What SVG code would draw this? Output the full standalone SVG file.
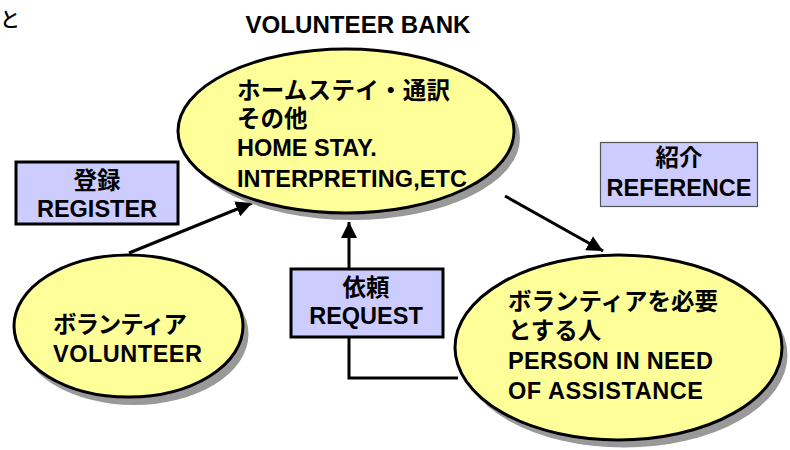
<svg xmlns="http://www.w3.org/2000/svg" width="790" height="450" viewBox="0 0 790 450">
<style>
.t{font-family:"Liberation Sans","Noto Sans CJK JP",Arial,sans-serif;font-weight:bold;font-size:23.5px;fill:#000}
.tc{text-anchor:middle}
.ell{fill:#ffff99;stroke:#000;stroke-width:3}
.sh{fill:#999}
.box{fill:#ccccff;stroke:#000;stroke-width:3}
.box2{fill:#ccccff;stroke:#555;stroke-width:1.2}
.con{fill:none;stroke:#000;stroke-width:3}
</style>
<defs>
<marker id="ah" markerUnits="userSpaceOnUse" markerWidth="18" markerHeight="16" refX="16" refY="8" orient="auto">
<path d="M0,0 L16,8 L0,16 Z" fill="#000"/>
</marker>
</defs>
<rect width="790" height="450" fill="#fff"/>
<text x="0" y="27" style="font-family:'Noto Sans CJK JP',sans-serif;font-size:20px;font-weight:500">と</text>
<text id="title" class="t tc" x="358" y="33" textLength="225" lengthAdjust="spacingAndGlyphs">VOLUNTEER BANK</text>

<g id="connectors">
<line class="con" x1="129" y1="253" x2="252" y2="203" marker-end="url(#ah)"/>
<line class="con" x1="505" y1="196" x2="603" y2="251" marker-end="url(#ah)"/>
<polyline class="con" points="458,378 349,378 349,222" marker-end="url(#ah)"/>
</g>

<g id="bank">
<ellipse class="sh" cx="352" cy="138" rx="168" ry="82"/>
<ellipse class="ell" cx="346" cy="131" rx="168" ry="82"/>
<text class="t" x="237" y="99" textLength="213">ホームステイ・通訳</text>
<text class="t" x="237" y="127">その他</text>
<text class="t" x="237" y="156">HOME STAY.</text>
<text class="t" x="237" y="187" textLength="230">INTERPRETING,ETC</text>
</g>

<g id="volunteer">
<ellipse class="sh" cx="134" cy="334" rx="114.5" ry="71"/>
<ellipse class="ell" cx="128.5" cy="326" rx="114.5" ry="71"/>
<text class="t" x="53" y="333" textLength="134">ボランティア</text>
<text class="t" x="53" y="362" textLength="149">VOLUNTEER</text>
</g>

<g id="person">
<ellipse class="sh" cx="624" cy="355" rx="163.5" ry="92.5"/>
<ellipse class="ell" cx="618.5" cy="347.5" rx="163.5" ry="92.5"/>
<text class="t" x="508" y="310" textLength="210">ボランティアを必要</text>
<text class="t" x="508" y="339">とする人</text>
<text class="t" x="508" y="369" textLength="205">PERSON IN NEED</text>
<text class="t" x="508" y="399" textLength="195">OF ASSISTANCE</text>
</g>

<g id="register">
<rect class="box" x="16" y="162" width="162" height="62"/>
<text class="t tc" x="97" y="189">登録</text>
<text class="t tc" x="97" y="217">REGISTER</text>
</g>

<g id="request">
<rect class="box" x="291" y="269" width="152" height="68"/>
<text class="t tc" x="366" y="296">依頼</text>
<text class="t tc" x="366" y="324">REQUEST</text>
</g>

<g id="reference">
<rect class="box2" x="600.5" y="142.5" width="157" height="64"/>
<text class="t tc" x="679" y="166">紹介</text>
<text class="t tc" x="679" y="196">REFERENCE</text>
</g>
</svg>
